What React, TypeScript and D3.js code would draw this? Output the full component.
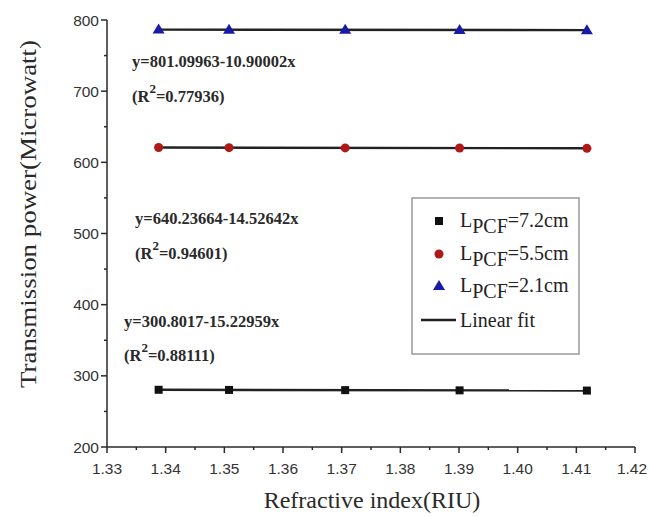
import React from "react";
import * as d3 from "d3";

const riu = [1.3388, 1.3508, 1.3706, 1.3901, 1.4118];
const power72 = [280.4, 280.2, 279.9, 279.6, 279.3];
const power55 = [620.8, 620.6, 620.3, 620.1, 619.7];
const power21 = [786.5, 786.4, 786.2, 786.0, 785.7];

const fitIntercepts = [300.8017, 640.23664, 801.09963];
const fitSlopes = [-15.22959, -14.52642, -10.90002];
const fitR2 = ["0.88111", "0.94601", "0.77936"];
const fitLabels = ["y=300.8017-15.22959x", "y=640.23664-14.52642x", "y=801.09963-10.90002x"];
const legendValues = ["7.2cm", "5.5cm", "2.1cm"];

const xTicks = [1.33, 1.34, 1.35, 1.36, 1.37, 1.38, 1.39, 1.4, 1.41, 1.42];
const yTicks = [200, 300, 400, 500, 600, 700, 800];

const W = 649;
const H = 517;

export default function App() {
  const x = d3.scaleLinear().domain([1.33, 1.42]).range([107, 635]);
  const y = d3.scaleLinear().domain([200, 800]).range([447, 20]);
  const fmt = d3.format(".2f");
  const series = [power72, power55, power21];
  const colors = ["#111111", "#b01818", "#1a1aa8"];

  const xMinor = d3.range(0, 9).map((i) => 1.335 + i * 0.01);
  const yMinor = d3.range(0, 6).map((i) => 250 + i * 100);

  const marker = (k: number, cx: number, cy: number, key: string) => {
    if (k === 0)
      return <rect key={key} x={cx - 4} y={cy - 4} width={8} height={8} fill={colors[0]} />;
    if (k === 1) return <circle key={key} cx={cx} cy={cy} r={4.5} fill={colors[1]} />;
    return (
      <path
        key={key}
        d={`M${cx},${cy - 6}L${cx + 6},${cy + 4}L${cx - 6},${cy + 4}Z`}
        fill={colors[2]}
      />
    );
  };

  const eqPos = [
    { x: 124, y1: 327, y2: 361 },
    { x: 135, y1: 224, y2: 259 },
    { x: 132, y1: 67, y2: 102 },
  ];

  const legendRows = [227, 260, 292];

  return (
    <svg
      width={W}
      height={H}
      style={{ position: "absolute", left: 0, top: 0, background: "#fff" }}
    >
      <rect width={W} height={H} fill="#fff" />
      <g stroke="#2a2a2a" strokeWidth={1.5} fill="none">
        <line x1={x(1.33)} x2={x(1.42)} y1={y(200)} y2={y(200)} />
        <line x1={x(1.33)} x2={x(1.33)} y1={y(200)} y2={y(800)} />
        {xTicks.map((t) => (
          <line key={"xt" + t} x1={x(t)} x2={x(t)} y1={y(200)} y2={y(200) + 6} />
        ))}
        {xMinor.map((t, i) => (
          <line key={"xm" + i} x1={x(t)} x2={x(t)} y1={y(200)} y2={y(200) + 3} />
        ))}
        {yTicks.map((t) => (
          <line key={"yt" + t} x1={x(1.33) - 6} x2={x(1.33)} y1={y(t)} y2={y(t)} />
        ))}
        {yMinor.map((t) => (
          <line key={"ym" + t} x1={x(1.33) - 3} x2={x(1.33)} y1={y(t)} y2={y(t)} />
        ))}
      </g>
      <g fontFamily="Liberation Sans, Arial, sans-serif" fontSize={15.5} fill="#333">
        {xTicks.map((t) => (
          <text
            key={"xl" + t}
            x={Math.min(x(t), W - 17)}
            y={y(200) + 27}
            textAnchor="middle"
          >
            {fmt(t)}
          </text>
        ))}
        {yTicks.map((t) => (
          <text key={"yl" + t} x={x(1.33) - 8} y={y(t) + 5.5} textAnchor="end">
            {t}
          </text>
        ))}
      </g>
      <text
        x={372}
        y={508}
        textAnchor="middle"
        fontFamily="Liberation Serif, Times New Roman, serif"
        fontSize={24}
        fill="#2a2a2a"
      >
        Refractive index(RIU)
      </text>
      <text
        transform={`translate(36,214) rotate(-90)`}
        textAnchor="middle"
        fontFamily="Liberation Serif, Times New Roman, serif"
        fontSize={24}
        fill="#2a2a2a"
        textLength={348}
        lengthAdjust="spacingAndGlyphs"
      >
        Transmission power(Microwatt)
      </text>

      {fitIntercepts.map((b, k) => {
        const x0 = riu[0];
        const x1 = riu[riu.length - 1];
        return (
          <line
            key={"fit" + k}
            x1={x(x0)}
            x2={x(x1)}
            y1={y(b + fitSlopes[k] * x0)}
            y2={y(b + fitSlopes[k] * x1)}
            stroke="#222"
            strokeWidth={2.4}
          />
        );
      })}
      {series.map((s, k) => (
        <g key={"s" + k}>{s.map((v, i) => marker(k, x(riu[i]), y(v), `m${k}-${i}`))}</g>
      ))}

      <g
        fontFamily="Liberation Serif, Times New Roman, serif"
        fontWeight="bold"
        fontSize={16.5}
        fill="#2a2a2a"
      >
        {fitLabels.map((lab, k) => (
          <g key={"eq" + k}>
            <text x={eqPos[k].x} y={eqPos[k].y1}>
              {lab}
            </text>
            <text x={eqPos[k].x} y={eqPos[k].y2}>
              (R
              <tspan dy={-9} fontSize={13}>
                2
              </tspan>
              <tspan dy={9}>={fitR2[k]})</tspan>
            </text>
          </g>
        ))}
      </g>

      <rect x={412} y={198} width={167} height={156} fill="#fff" stroke="#9a9a9a" strokeWidth={1.5} />
      <g fontFamily="Liberation Serif, Times New Roman, serif" fontSize={20} fill="#222">
        {legendValues.map((v, k) => (
          <g key={"lg" + k}>
            {marker(k, 439, legendRows[k] - 6, "lgm" + k)}
            <text x={460} y={legendRows[k]}>
              L
              <tspan dy={6}>PCF</tspan>
              <tspan dy={-6}>={v}</tspan>
            </text>
          </g>
        ))}
        <line x1={421} x2={456} y1={320} y2={320} stroke="#222" strokeWidth={2.4} />
        <text x={460} y={327}>
          Linear fit
        </text>
      </g>
    </svg>
  );
}
